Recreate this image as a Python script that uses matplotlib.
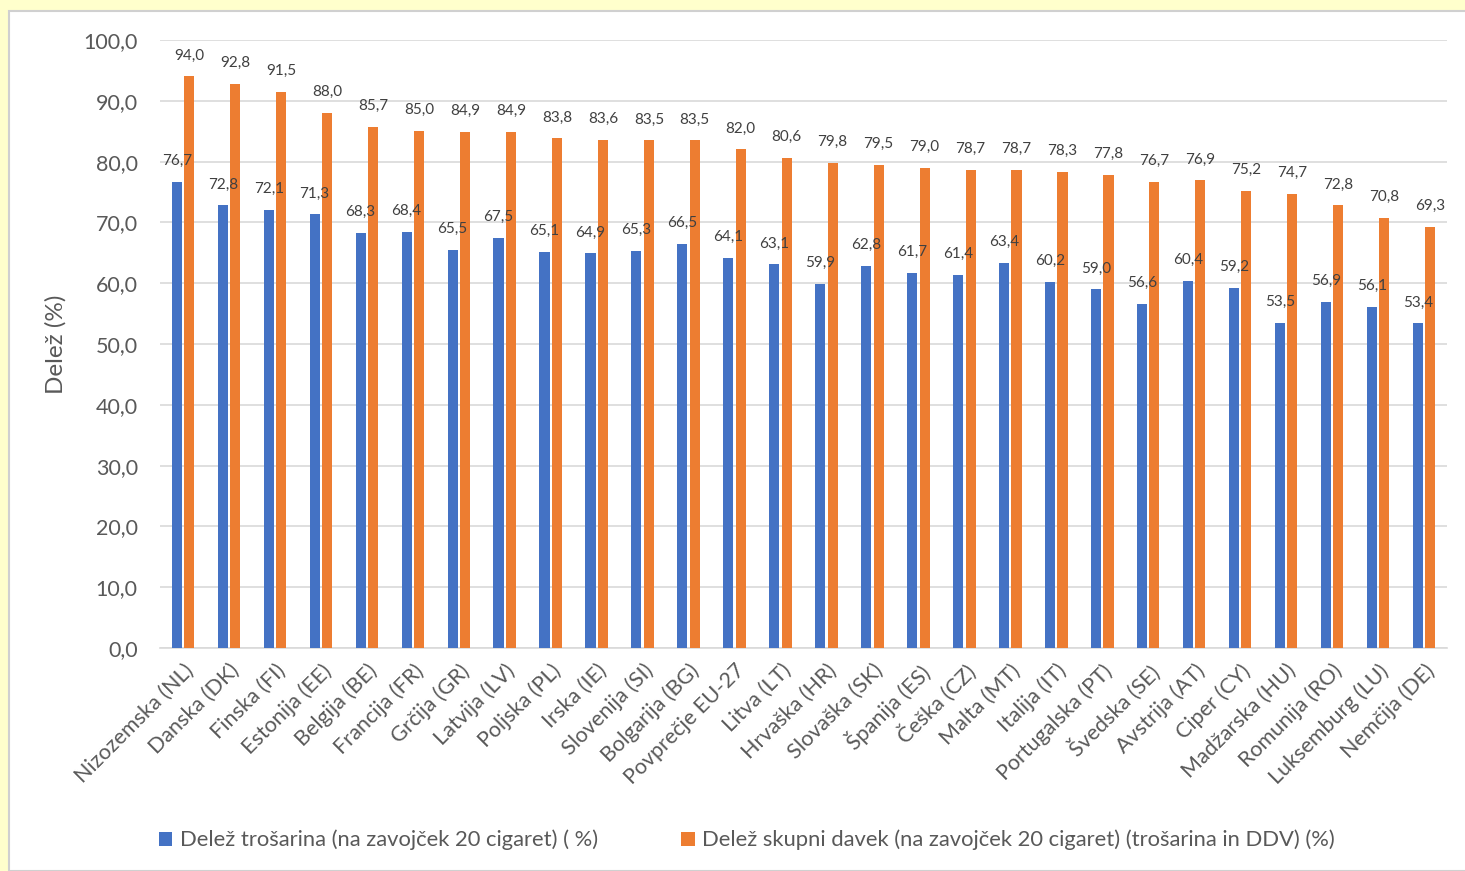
import matplotlib.pyplot as plt
import matplotlib.patches as mpatches
import numpy as np

# Countries and their tax shares on a pack of 20 cigarettes
drzave = ['Nizozemska (NL)', 'Danska (DK)', 'Finska (FI)', 'Estonija (EE)', 'Belgija (BE)',
          'Francija (FR)', 'Grčija (GR)', 'Latvija (LV)', 'Poljska (PL)', 'Irska (IE)',
          'Slovenija (SI)', 'Bolgarija (BG)', 'Povprečje EU-27', 'Litva (LT)', 'Hrvaška (HR)',
          'Slovaška (SK)', 'Španija (ES)', 'Češka (CZ)', 'Malta (MT)', 'Italija (IT)',
          'Portugalska (PT)', 'Švedska (SE)', 'Avstrija (AT)', 'Ciper (CY)', 'Madžarska (HU)',
          'Romunija (RO)', 'Luksemburg (LU)', 'Nemčija (DE)']

trosarina = [76.7, 72.8, 72.1, 71.3, 68.3, 68.4, 65.5, 67.5, 65.1, 64.9, 65.3, 66.5, 64.1, 63.1,
             59.9, 62.8, 61.7, 61.4, 63.4, 60.2, 59.0, 56.6, 60.4, 59.2, 53.5, 56.9, 56.1, 53.4]

skupni_davek = [94.0, 92.8, 91.5, 88.0, 85.7, 85.0, 84.9, 84.9, 83.8, 83.6, 83.5, 83.5, 82.0, 80.6,
                79.8, 79.5, 79.0, 78.7, 78.7, 78.3, 77.8, 76.7, 76.9, 75.2, 74.7, 72.8, 70.8, 69.3]

ime_1 = 'Delež trošarina (na zavojček 20 cigaret) ( %)'
ime_2 = 'Delež skupni davek (na zavojček 20 cigaret) (trošarina in DDV) (%)'

modra = '#4472C4'
oranzna = '#ED7D31'
siva = '#595959'
mreza = '#D9D9D9'

plt.rcParams['font.family'] = ['Lato', 'DejaVu Sans']

fig = plt.figure(figsize=(14.65, 8.71), dpi=100)
fig.patch.set_facecolor('#FFFFCC')

# white chart area with a thin grey frame
okvir = mpatches.Rectangle((9 / 1465, 0), 1.0, 1 - 11 / 871, transform=fig.transFigure,
                           facecolor='white', edgecolor='#D0D0D0', linewidth=1.5, zorder=-1)
fig.patches.append(okvir)

ax = fig.add_axes([160 / 1465, 1 - 648 / 871, 1287 / 1465, 608 / 871])
ax.set_facecolor('white')
ax.set_zorder(1)

x = np.arange(len(drzave))
sirina = 0.22
odmik = 0.135

b1 = ax.bar(x - odmik, trosarina, sirina, color=modra, label=ime_1, zorder=3)
b2 = ax.bar(x + odmik, skupni_davek, sirina, color=oranzna, label=ime_2, zorder=3)

for stolpci in (b1, b2):
    ax.bar_label(stolpci, labels=[('%.1f' % s.get_height()).replace('.', ',') for s in stolpci],
                 padding=10, fontsize=11, color='#404040')

ax.set_xlim(-0.5, len(drzave) - 0.5)
ax.set_ylim(0, 100)
ax.set_yticks(np.arange(0, 101, 10))
ax.set_yticklabels([('%.1f' % v).replace('.', ',') for v in np.arange(0, 101, 10)],
                   fontsize=15.5, color=siva)
ax.set_xticks(x)
ax.set_xticklabels(drzave, rotation=45, ha='right', rotation_mode='anchor',
                   fontsize=15.5, color=siva)
ax.tick_params(axis='both', length=0)
ax.tick_params(axis='y', pad=16)
ax.tick_params(axis='x', pad=9)

ax.grid(axis='y', color=mreza, linewidth=1.2, zorder=0)
for s in ['top', 'right', 'left']:
    ax.spines[s].set_visible(False)
ax.spines['bottom'].set_color(mreza)
ax.spines['bottom'].set_linewidth(1.2)

ax.set_ylabel('Delež (%)', fontsize=17.5, color=siva, labelpad=12)

fig.legend(handles=[b1, b2], loc='center', bbox_to_anchor=(747 / 1465, 1 - 840 / 871),
           ncol=2, frameon=False, fontsize=15.8, labelcolor=siva, handlelength=0.6,
           handleheight=0.6, handletextpad=0.35, columnspacing=3.8)

fig.savefig('out.png', dpi=100, facecolor=fig.get_facecolor())
